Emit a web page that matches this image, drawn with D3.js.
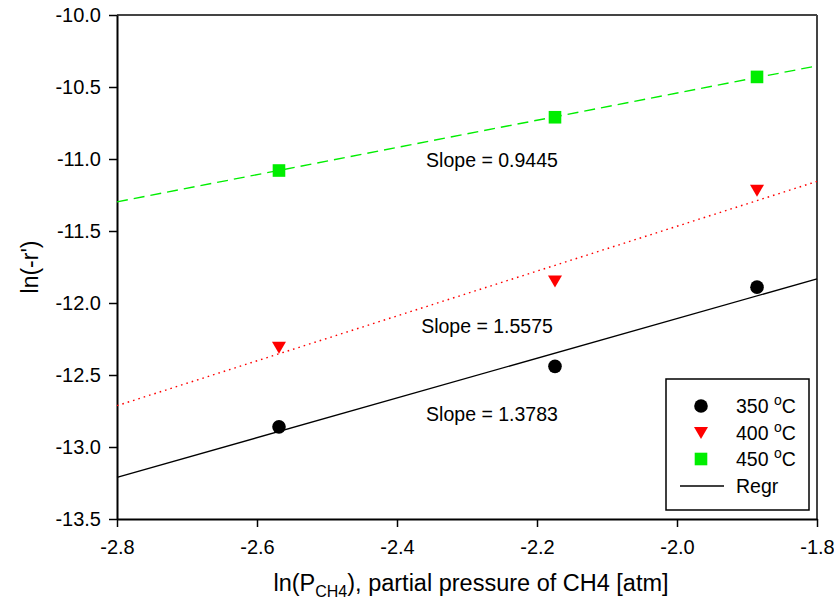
<!DOCTYPE html>
<html>
<head>
<meta charset="utf-8">
<script src="https://cdn.jsdelivr.net/npm/d3@7"></script>
<style>
  html, body { margin: 0; padding: 0; background: #fff; }
  svg { display: block; font-family: "Liberation Sans", Arial, sans-serif; }
</style>
</head>
<body>
<svg id="chart" width="834" height="606"></svg>
<script>
// ln of CH4 partial pressure (x) and ln(-r') (y) for each temperature
const xValues = [-2.5686, -2.1743, -1.8857];
const series350 = [-12.86, -12.44, -11.89];
const series400 = [-12.31, -11.85, -11.22];
const series450 = [-11.08, -10.71, -10.43];
const seriesNames = ["350", "400", "450"];
const slopes = [1.3783, 1.5575, 0.9445];
const xTicks = [-2.8, -2.6, -2.4, -2.2, -2.0, -1.8];
const yTicks = [-10.0, -10.5, -11.0, -11.5, -12.0, -12.5, -13.0, -13.5];

const svg = d3.select("#chart");
const margin = { left: 117, top: 15, right: 17, bottom: 87 };
const W = 834, H = 606;
const x = d3.scaleLinear().domain([-2.8, -1.8]).range([margin.left, W - margin.right]);
const y = d3.scaleLinear().domain([-13.5, -10.0]).range([H - margin.bottom, margin.top]);
const fmt = d => d3.format(".1f")(d).replace("\u2212", "-");

const styles = [
  { color: "#000000", dash: null, width: 1.4, shape: "circle" },
  { color: "#ff0000", dash: "1.6,4", width: 1.4, shape: "triangle" },
  { color: "#00ee00", dash: "11,6", width: 1.4, shape: "square" }
];
const allSeries = [series350, series400, series450];

// frame: top and right edges in grey
svg.append("line").attr("x1", x(-2.8)).attr("x2", x(-1.8)).attr("y1", y(-10)).attr("y2", y(-10))
  .attr("stroke", "#444").attr("stroke-width", 2);
svg.append("line").attr("x1", x(-1.8)).attr("x2", x(-1.8)).attr("y1", y(-10)).attr("y2", y(-13.5))
  .attr("stroke", "#444").attr("stroke-width", 2);

// axes
const xAxis = d3.axisBottom(x).tickValues(xTicks).tickFormat(fmt).tickSize(8).tickSizeOuter(0);
const yAxis = d3.axisLeft(y).tickValues(yTicks).tickFormat(fmt).tickSize(8).tickSizeOuter(0);
const gx = svg.append("g").attr("transform", `translate(0,${y(-13.5)})`).call(xAxis);
const gy = svg.append("g").attr("transform", `translate(${x(-2.8)},0)`).call(yAxis);
[gx, gy].forEach(g => {
  g.attr("font-family", null).attr("font-size", null);
  g.select(".domain").attr("stroke", "#000").attr("stroke-width", 2);
  g.selectAll(".tick line").attr("stroke", "#000").attr("stroke-width", 1.5);
  g.selectAll(".tick text").attr("fill", "#000").style("font-size", "20px");
});
gx.selectAll(".tick text").attr("y", 21).attr("dy", "0.71em");
gy.selectAll(".tick text").attr("x", -16);

// regression lines with the stated slopes through the centroid of each series
const meanX = d3.mean(xValues);
allSeries.forEach((vals, i) => {
  const my = d3.mean(vals);
  const f = v => my + slopes[i] * (v - meanX);
  svg.append("line")
    .attr("x1", x(-2.8)).attr("y1", y(f(-2.8)))
    .attr("x2", x(-1.8)).attr("y2", y(f(-1.8)))
    .attr("stroke", styles[i].color).attr("stroke-width", styles[i].width)
    .attr("stroke-dasharray", styles[i].dash);
});

// markers
function drawMarker(g, shape, cx, cy, color) {
  if (shape === "circle") {
    g.append("circle").attr("cx", cx).attr("cy", cy).attr("r", 6.8).attr("fill", color);
  } else if (shape === "triangle") {
    const s = 7;
    g.append("path").attr("d", `M${cx - s},${cy - 6}L${cx + s},${cy - 6}L${cx},${cy + 6}Z`).attr("fill", color);
  } else {
    g.append("rect").attr("x", cx - 6.3).attr("y", cy - 6.3).attr("width", 12.6).attr("height", 12.6).attr("fill", color);
  }
}
const marks = svg.append("g");
allSeries.forEach((vals, i) => {
  vals.forEach((v, j) => drawMarker(marks, styles[i].shape, x(xValues[j]), y(v), styles[i].color));
});

// slope annotations (anchor in data units: centre x, baseline y)
const slopeLabelPos = [[-2.2643, -12.819], [-2.2714, -12.208], [-2.2643, -11.056]];
slopes.forEach((s, i) => {
  svg.append("text").attr("x", x(slopeLabelPos[i][0])).attr("y", y(slopeLabelPos[i][1]))
    .attr("text-anchor", "middle").style("font-size", "19.5px").attr("fill", "#000")
    .text(`Slope = ${s.toFixed(4)}`);
});

// axis titles
svg.append("text").attr("transform", `translate(38,${(y(-10) + y(-13.5)) / 2}) rotate(-90)`)
  .attr("text-anchor", "middle").style("font-size", "23px").text("ln(-r')");
const xt = svg.append("text").attr("x", 471).attr("y", 591)
  .attr("text-anchor", "middle").style("font-size", "23.5px");
xt.append("tspan").text("ln(P");
xt.append("tspan").attr("dy", 6).style("font-size", "16px").text("CH4");
xt.append("tspan").attr("dy", -6).text("), partial pressure of CH4 [atm]");

// legend
const lg = svg.append("g");
lg.append("rect").attr("x", 666).attr("y", 379).attr("width", 143).attr("height", 131)
  .attr("fill", "#fff").attr("stroke", "#000").attr("stroke-width", 1.5);
const rowsY = [406, 433, 459, 486];
seriesNames.forEach((name, i) => {
  drawMarker(lg, styles[i].shape, 701, rowsY[i], styles[i].color);
  const t = lg.append("text").attr("x", 736).attr("y", rowsY[i] + 7).style("font-size", "19.5px");
  t.append("tspan").text(name + " ");
  t.append("tspan").attr("dy", -8).style("font-size", "14px").text("o");
  t.append("tspan").attr("dy", 8).text("C");
});
lg.append("line").attr("x1", 680).attr("x2", 724).attr("y1", rowsY[3]).attr("y2", rowsY[3])
  .attr("stroke", "#000").attr("stroke-width", 1.4);
lg.append("text").attr("x", 736).attr("y", rowsY[3] + 7).style("font-size", "19.5px").text("Regr");
</script>
</body>
</html>
